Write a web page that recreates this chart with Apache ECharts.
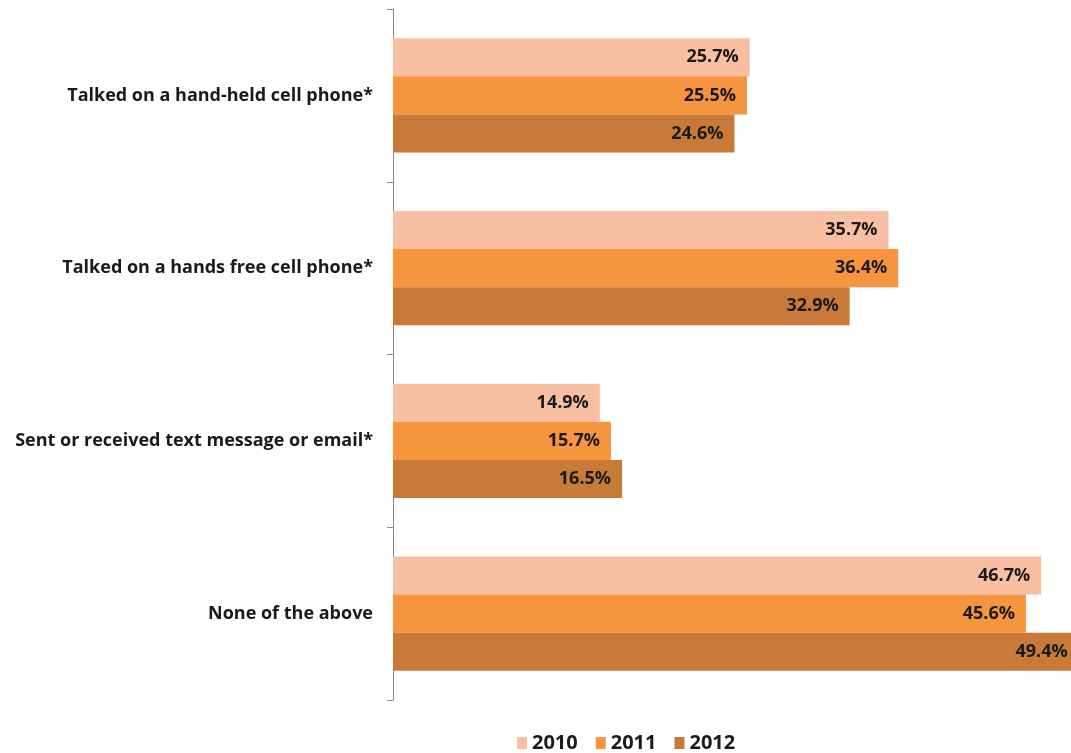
<!DOCTYPE html>
<html>
<head>
    <meta charset="utf-8">
    <title>ECharts</title>
    <script src="https://cdn.jsdelivr.net/npm/echarts@6/dist/echarts.min.js"></script>
    <style>
        body { margin: 0; background: #fff; }
    </style>
</head>
<body>
    <div id="main" style="width:1071px;height:753px;"></div>
    <script type="text/javascript">
        // categories, top to bottom
        var categories = [
            "Talked on a hand-held cell phone*",
            "Talked on a hands free cell phone*",
            "Sent or received text message or email*",
            "None of the above"
        ];
        var years = ["2010", "2011", "2012"];
        var data2010 = [25.7, 35.7, 14.9, 46.7];
        var data2011 = [25.5, 36.4, 15.7, 45.6];
        var data2012 = [24.6, 32.9, 16.5, 49.4];
        var colors = ["#F9BFA3", "#F7953F", "#C97A38"];

        var font = "'Open Sans', 'Liberation Sans', sans-serif";
        var myChart = echarts.init(document.getElementById("main"));

        var seriesData = [data2010, data2011, data2012];
        var series = [];
        for (var i = 0; i < years.length; i++) {
            series.push({
                name: years[i],
                type: "bar",
                data: seriesData[i],
                barGap: "0%",
                barCategoryGap: "34%",
                itemStyle: { color: colors[i] },
                label: {
                    show: true,
                    position: "insideRight",
                    distance: 11,
                    formatter: "{c}%",
                    color: "#1a1a1a",
                    fontFamily: font,
                    fontWeight: "bold",
                    fontSize: 18
                }
            });
        }

        var option = {
            animation: false,
            color: colors,
            legend: {
                data: years,
                top: 728,
                left: 512,
                itemWidth: 10,
                itemHeight: 12,
                itemGap: 18,
                icon: "rect",
                textStyle: {
                    fontFamily: font,
                    fontWeight: "bold",
                    fontSize: 20,
                    color: "#1a1a1a"
                }
            },
            grid: {
                left: 393,
                top: 9,
                width: 694,
                bottom: 53,
                containLabel: false,
                outerBoundsMode: "none"
            },
            xAxis: {
                type: "value",
                min: 0,
                max: 50,
                show: false
            },
            yAxis: {
                type: "category",
                inverse: true,
                data: categories,
                axisLine: { show: true, lineStyle: { color: "#888", width: 1 } },
                axisTick: { show: true, length: 6, lineStyle: { color: "#888" } },
                axisLabel: {
                    margin: 20,
                    color: "#1a1a1a",
                    fontFamily: font,
                    fontWeight: "bold",
                    fontSize: 18
                }
            },
            series: series
        };
        myChart.setOption(option);
    </script>
</body>
</html>
